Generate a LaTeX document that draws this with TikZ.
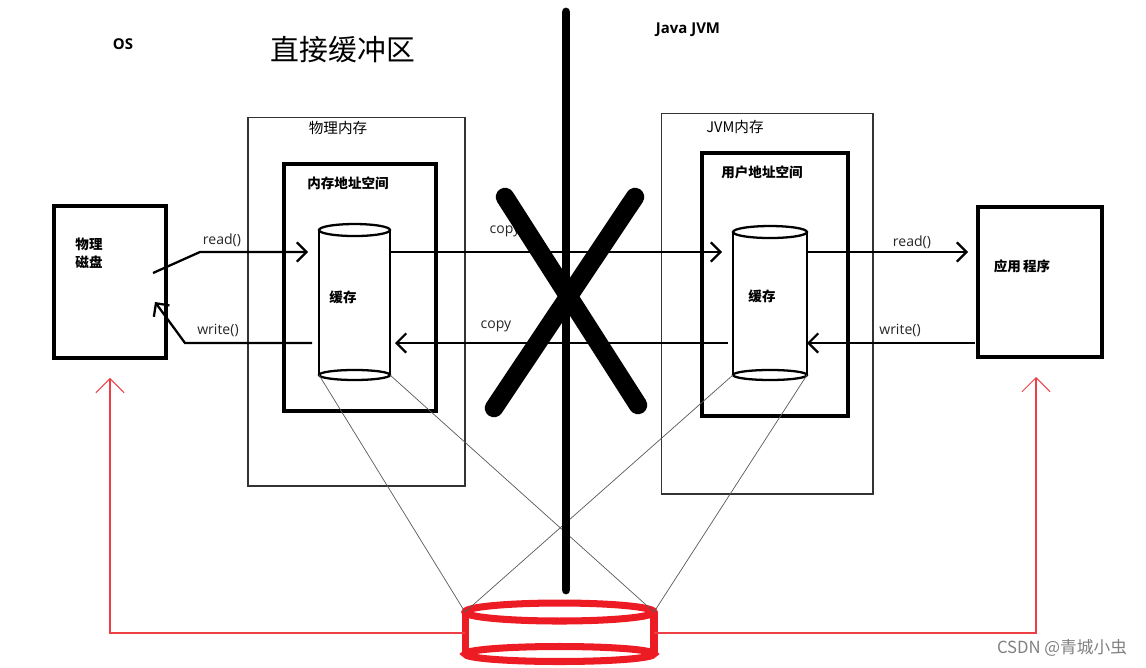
\documentclass[tikz,border=0pt]{standalone}
\usepackage{fontspec}
\setmainfont{Open Sans}
\newfontfamily\cjk{Noto Sans CJK SC}
\usetikzlibrary{arrows.meta}

\definecolor{paintred}{RGB}{237,28,36}

\begin{document}
\begin{tikzpicture}[
  x=0.02cm, y=-0.02cm,
  heavy/.style={draw, line width=2.3pt, inner sep=0pt, outer sep=0pt},
  thinbox/.style={draw=black!80, line width=0.6pt, inner sep=0pt, outer sep=0pt},
  cylbody/.style={inner sep=0pt, outer sep=0pt},
  cyl/.style={line width=1.3pt},
  cjkb/.style={font=\cjk\bfseries\fontsize{7.7}{10.2}\selectfont, inner sep=0pt},
  cjkn/.style={font=\cjk\fontsize{8.3}{10}\selectfont, inner sep=0pt},
  hdr/.style={font=\bfseries\fontsize{8.5}{10}\selectfont, inner sep=0pt},
  lbl/.style={font=\fontsize{8}{10}\selectfont, text=black!85, inner sep=0pt},
  flow/.style={line width=1.3pt,
               -{Straight Barb[length=5.5pt, width=11pt, line width=1.3pt]}},
  wire/.style={draw=black!65, line width=0.4pt},
  feed/.style={draw=paintred!85, line width=0.6pt,
               -{Straight Barb[length=8pt, width=16pt, line width=0.6pt]}},
  wall/.style={line width=5pt, line cap=round},
  cross/.style={line width=10.5pt, line cap=round},
  wmark/.style={font=\cjk\fontsize{9.5}{11}\selectfont, text=black!50, inner sep=0pt}
]
\useasboundingbox (0,0) rectangle (1146,667);

% --- Headings ---
\node[hdr] (os) at (123,44) {OS};
\node[font=\cjk\fontsize{16.4}{18}\selectfont, inner sep=0pt] (title) at (343,50) {直接缓冲区};
\node[hdr] (jvmhdr) at (688,30) {Java JVM};

% --- OS side ---
\node[heavy, minimum width=2.24cm, minimum height=3.04cm] (disk) at (110,282) {};
\node[cjkb, align=left] (diskT) at (89,253) {物理\\磁盘};

\node[thinbox, minimum width=4.34cm, minimum height=7.38cm] (phys) at (356.5,301.5) {};
\node[cjkn] (physT) at (338,128) {物理内存};
\node[heavy, minimum width=3.04cm, minimum height=4.94cm] (memspace) at (360,287.5) {};
\node[cjkb] (memspaceT) at (348,183) {内存地址空间};
\node[cylbody, minimum width=1.42cm, minimum height=2.9cm] (cacheL) at (354.5,302.5) {};
\node[cjkb] (cacheLT) at (343,297) {缓存};

% --- JVM side ---
\node[thinbox, minimum width=4.24cm, minimum height=7.62cm] (jvm) at (767,303.5) {};
\node[cjkn] (jvmT) at (735,127) {JVM内存};
\node[heavy, minimum width=2.92cm, minimum height=5.26cm] (userspace) at (775,284.5) {};
\node[cjkb] (userspaceT) at (762,172) {用户地址空间};
\node[cylbody, minimum width=1.48cm, minimum height=2.86cm] (cacheR) at (770,303.5) {};
\node[cjkb] (cacheRT) at (762,296) {缓存};

\node[heavy, minimum width=2.48cm, minimum height=3.0cm] (app) at (1040,282) {};
\node[cjkb] (appT) at (1022,266) {应用\,程序};

% --- Cache cylinders ---
\foreach \c/\rx in {cacheL/0.71cm, cacheR/0.74cm}{
  \draw[cyl] (\c.north west) -- (\c.south west) (\c.north east) -- (\c.south east);
  \draw[cyl] (\c.north) ellipse[x radius=\rx, y radius=0.12cm];
  \draw[cyl] (\c.south) ellipse[x radius=\rx, y radius=0.1cm];
}

% --- Direct buffer (red cylinder) ---
\node[cylbody, minimum width=3.78cm, minimum height=0.84cm] (store) at (559.5,633) {};
\draw[paintred, line width=4pt] (store.north west) -- (store.south west)
  (store.north east) -- (store.south east);
\draw[paintred, line width=4pt] (store.north) ellipse[x radius=1.89cm, y radius=0.18cm];
\draw[paintred, line width=4pt] (store.south) ellipse[x radius=1.89cm, y radius=0.15cm];

% --- Mapping wires ---
\foreach \c in {cacheL, cacheR}{
  \draw[wire] (\c.south west) -- (store.north west);
  \draw[wire] (\c.south east) -- (store.north east);
}

% --- Red feedback arrows ---
\draw[feed] (store.west) -| ([yshift=-0.4cm]disk.south);
\draw[feed] (store.east) -| ([yshift=-0.4cm, xshift=-0.08cm]app.south);

% --- Data flow ---
\coordinate (rdA) at (153,273);
\coordinate (rdB) at (200,252);
\coordinate (wrA) at (185,343);
\coordinate (wrB) at (155,302);

\draw[flow, shorten >=0.22cm] (rdA) -- (rdB) -- (rdB -| cacheL.west);
\draw[flow, shorten <=0.14cm] (wrA -| cacheL.west) -- (wrA) -- (wrB);
\draw[flow, shorten >=0.22cm] (cacheL.east |- rdB) -- (cacheR.west |- rdB);
\draw[flow, shorten <=0.1cm, shorten >=0.1cm] (cacheR.west |- wrA) -- (cacheL.east |- wrA);
\draw[flow, shorten >=0.2cm] (cacheR.east |- rdB) -- (app.west |- rdB);
\draw[flow, shorten <=0.06cm] (app.west |- wrA) -- (cacheR.east |- wrA);

\node[lbl] (rdL) at (222,240) {read()};
\node[lbl] (wrL) at (218,330) {write()};
\node[lbl] (cpTop) at (505,231) {copy};
\node[lbl] (cpBot) at (496,326) {copy};
\node[lbl] (rdR) at (912,242) {read()};
\node[lbl] (wrR) at (900,330) {write()};

% --- Wall and cross ---
\coordinate (wallT) at (566,12);
\coordinate (wallB) at (566,590);
\draw[wall] (wallT) -- (wallB);
\draw[cross] (505,197) -- (638,405);
\draw[cross] (635,197) -- (494,408);

% --- Watermark ---
\node[wmark] (wm) at (1062,648) {CSDN @青城小虫};

\end{tikzpicture}
\end{document}
